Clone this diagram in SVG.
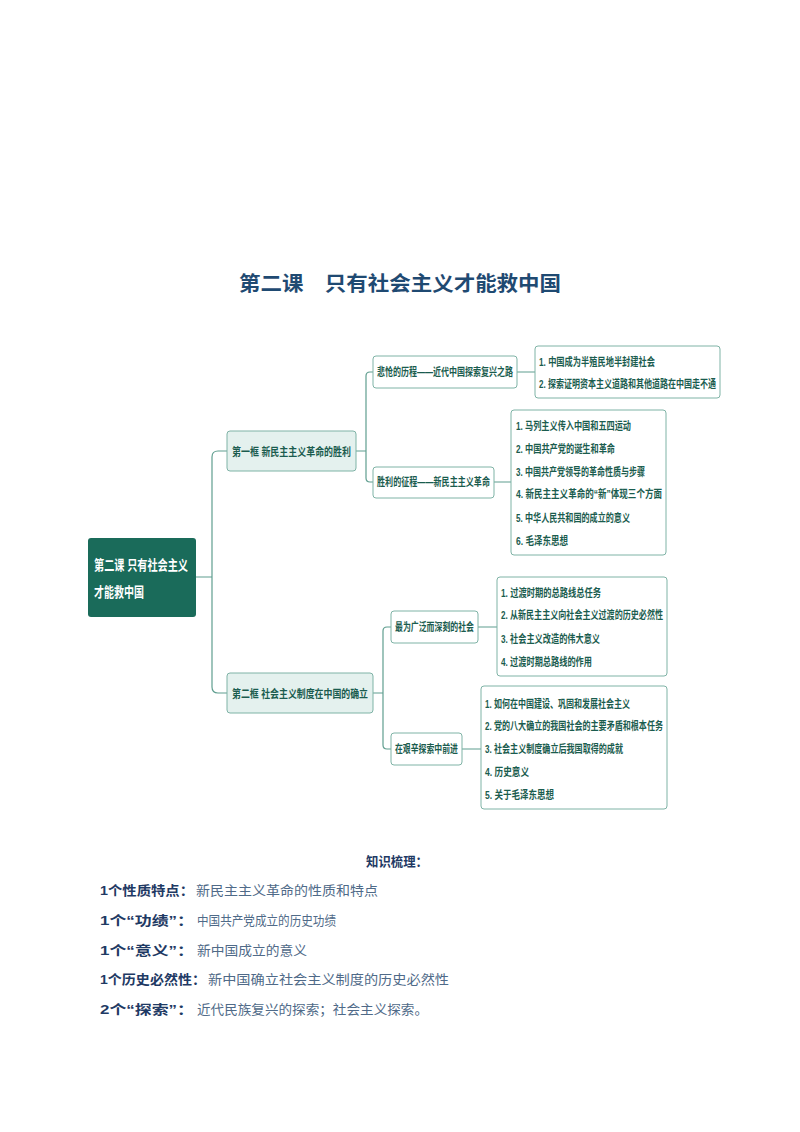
<svg xmlns="http://www.w3.org/2000/svg" width="800" height="1132" viewBox="0 0 800 1132">
<style>
text{font-family:"Liberation Sans","Noto Sans CJK SC",sans-serif}
.t{fill:#1a5c4e;font-size:11px;font-weight:bold}
.l1{fill:#e4f1ee;stroke:#7fb3a6;stroke-width:1}
.b{fill:#fff;stroke:#7fb3a6;stroke-width:1}
.c{fill:none;stroke:#5f9e8f;stroke-width:1.2}
.k{font-size:13px;fill:#1f3a64;font-weight:bold}
.v{font-size:13px;fill:#4f6a88}
</style>
<rect width="800" height="1132" fill="#fff"/>
<text x="239" y="291" textLength="322" lengthAdjust="spacingAndGlyphs" font-size="20" font-weight="bold" fill="#1f4a72">第二课　只有社会主义才能救中国</text>
<g id="connectors">
<path class="c" d="M196 577H212M227 451H218Q212 451 212 457V687Q212 693 218 693H227"/>
<path class="c" d="M356 451H366M373 372H370Q366 372 366 376V478Q366 482 370 482H373"/>
<path class="c" d="M517 372H535M494 482H511"/>
<path class="c" d="M373 693H383M391 627H387Q383 627 383 631V745Q383 749 387 749H391"/>
<path class="c" d="M478 627H497M462 749H481"/>
</g>
<g id="root"><rect x="88" y="538" width="108" height="79" rx="3" fill="#1a6b5a"/>
<text x="94" y="570" textLength="94" lengthAdjust="spacingAndGlyphs" fill="#fff" font-size="14" font-weight="bold">第二课  只有社会主义</text>
<text x="94" y="597" textLength="50" lengthAdjust="spacingAndGlyphs" fill="#fff" font-size="14" font-weight="bold">才能救中国</text></g>
<g id="n1"><rect class="l1" x="227" y="431" width="129" height="40" rx="3"/><text class="t" x="232" y="456" textLength="119" lengthAdjust="spacingAndGlyphs">第一框 新民主主义革命的胜利</text></g>
<g id="n2"><rect class="l1" x="227" y="673" width="146" height="40" rx="3"/><text class="t" x="232" y="698" textLength="136" lengthAdjust="spacingAndGlyphs">第二框 社会主义制度在中国的确立</text></g>
<g id="n11"><rect class="b" x="373" y="356" width="144" height="32" rx="3"/><text class="t" x="377" y="376" textLength="136" lengthAdjust="spacingAndGlyphs">悲怆的历程——近代中国探索复兴之路</text></g>
<g id="n12"><rect class="b" x="373" y="467" width="121" height="31" rx="3"/><text class="t" x="377" y="486" textLength="113" lengthAdjust="spacingAndGlyphs">胜利的征程——新民主主义革命</text></g>
<g id="n21"><rect class="b" x="391" y="611" width="87" height="32" rx="3"/><text class="t" x="395" y="631" textLength="79" lengthAdjust="spacingAndGlyphs">最为广泛而深刻的社会</text></g>
<g id="n22"><rect class="b" x="391" y="733" width="71" height="32" rx="3"/><text class="t" x="395" y="753" textLength="63" lengthAdjust="spacingAndGlyphs">在艰辛探索中前进</text></g>
<g id="n111"><rect class="b" x="535" y="346" width="185" height="52" rx="3"/>
<text class="t" x="539" y="366" textLength="116" lengthAdjust="spacingAndGlyphs">1. 中国成为半殖民地半封建社会</text>
<text class="t" x="539" y="388" textLength="177" lengthAdjust="spacingAndGlyphs">2. 探索证明资本主义道路和其他道路在中国走不通</text></g>
<g id="n121"><rect class="b" x="511" y="410" width="155" height="145" rx="3"/>
<text class="t" x="516" y="430" textLength="115" lengthAdjust="spacingAndGlyphs">1. 马列主义传入中国和五四运动</text>
<text class="t" x="516" y="453" textLength="99" lengthAdjust="spacingAndGlyphs">2. 中国共产党的诞生和革命</text>
<text class="t" x="516" y="476" textLength="129" lengthAdjust="spacingAndGlyphs">3. 中国共产党领导的革命性质与步骤</text>
<text class="t" x="516" y="498" textLength="146" lengthAdjust="spacingAndGlyphs">4. 新民主主义革命的“新”体现三个方面</text>
<text class="t" x="516" y="522" textLength="114" lengthAdjust="spacingAndGlyphs">5. 中华人民共和国的成立的意义</text>
<text class="t" x="516" y="545" textLength="52" lengthAdjust="spacingAndGlyphs">6. 毛泽东思想</text></g>
<g id="n211"><rect class="b" x="497" y="577" width="170" height="99" rx="3"/>
<text class="t" x="501" y="597" textLength="100" lengthAdjust="spacingAndGlyphs">1. 过渡时期的总路线总任务</text>
<text class="t" x="501" y="619" textLength="162" lengthAdjust="spacingAndGlyphs">2. 从新民主主义向社会主义过渡的历史必然性</text>
<text class="t" x="501" y="643" textLength="99" lengthAdjust="spacingAndGlyphs">3. 社会主义改造的伟大意义</text>
<text class="t" x="501" y="666" textLength="91" lengthAdjust="spacingAndGlyphs">4. 过渡时期总路线的作用</text></g>
<g id="n221"><rect class="b" x="481" y="686" width="186" height="123" rx="3"/>
<text class="t" x="485" y="708" textLength="145" lengthAdjust="spacingAndGlyphs">1. 如何在中国建设、巩固和发展社会主义</text>
<text class="t" x="485" y="730" textLength="178" lengthAdjust="spacingAndGlyphs">2. 党的八大确立的我国社会的主要矛盾和根本任务</text>
<text class="t" x="485" y="753" textLength="138" lengthAdjust="spacingAndGlyphs">3. 社会主义制度确立后我国取得的成就</text>
<text class="t" x="485" y="776" textLength="44" lengthAdjust="spacingAndGlyphs">4. 历史意义</text>
<text class="t" x="485" y="799" textLength="69" lengthAdjust="spacingAndGlyphs">5. 关于毛泽东思想</text></g>
<text x="366" y="866" textLength="62" lengthAdjust="spacingAndGlyphs" class="k">知识梳理：</text>
<text x="100" y="895" class="k" textLength="94" lengthAdjust="spacingAndGlyphs">1个性质特点：</text><text x="196" y="895" class="v" textLength="182" lengthAdjust="spacingAndGlyphs">新民主主义革命的性质和特点</text>
<text x="100" y="925" class="k" textLength="94" lengthAdjust="spacingAndGlyphs">1个“功绩”：</text><text x="197" y="925" class="v" textLength="139" lengthAdjust="spacingAndGlyphs">中国共产党成立的历史功绩</text>
<text x="100" y="955" class="k" textLength="94" lengthAdjust="spacingAndGlyphs">1个“意义”：</text><text x="197" y="955" class="v" textLength="110" lengthAdjust="spacingAndGlyphs">新中国成立的意义</text>
<text x="100" y="984" class="k" textLength="106" lengthAdjust="spacingAndGlyphs">1个历史必然性：</text><text x="208" y="984" class="v" textLength="241" lengthAdjust="spacingAndGlyphs">新中国确立社会主义制度的历史必然性</text>
<text x="100" y="1014" class="k" textLength="94" lengthAdjust="spacingAndGlyphs">2个“探索”：</text><text x="197" y="1014" class="v" textLength="231" lengthAdjust="spacingAndGlyphs">近代民族复兴的探索；社会主义探索。</text>
</svg>
